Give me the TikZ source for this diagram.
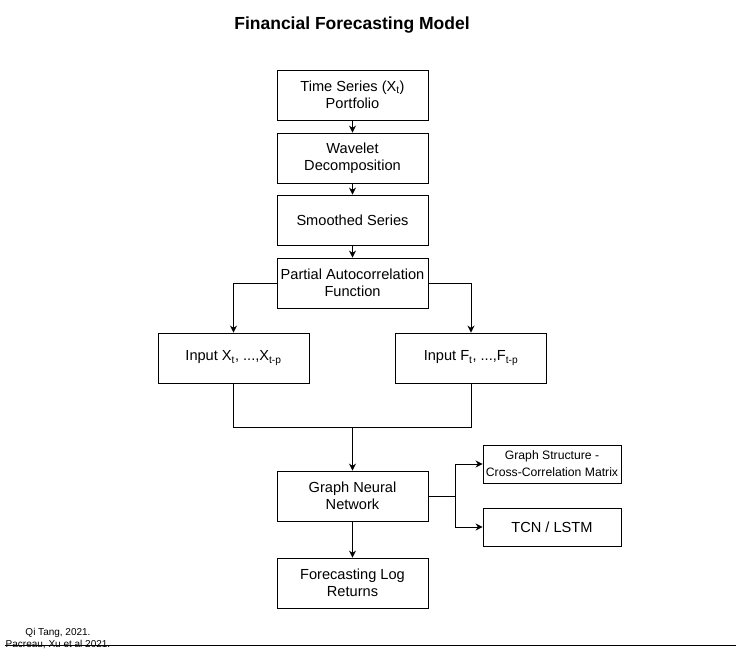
\documentclass[tikz,border=0pt]{standalone}
\usepackage{fontspec}
\setmainfont{Liberation Sans}
\usetikzlibrary{arrows.meta}
\begin{document}
\begin{tikzpicture}[x=1pt,y=-1pt,
  box/.style={draw,line width=0.9pt,minimum width=151pt,minimum height=50pt,align=center,inner sep=1pt,font=\fontsize{14.6}{17}\selectfont},
  sbox/.style={draw,line width=0.9pt,minimum width=138pt,minimum height=38pt,align=center,inner sep=1pt},
  conn/.style={line width=0.9pt},
  arr/.style={conn,-{Stealth[length=7pt,width=7pt]}}]
\useasboundingbox (0,0) rectangle (736,654);
\node[font=\bfseries\fontsize{17.5}{20}\selectfont] (title) at (352,25) {Financial Forecasting Model};
\node[box] (ts) at (352.5,95) {Time Series (X\textsubscript{t})\\Portfolio};
\node[box] (wd) at (352.5,158) {Wavelet\\Decomposition};
\node[box] (ss) at (352.5,220) {Smoothed Series};
\node[box] (pacf) at (352.5,283) {Partial Autocorrelation\\Function};
\node[box] (ix) at (233.5,358) {Input X\textsubscript{t}, ...,X\textsubscript{t-p}};
\node[box] (if) at (471,358) {Input F\textsubscript{t}, ...,F\textsubscript{t-p}};
\node[box] (gnn) at (352.5,496) {Graph Neural\\Network};
\node[box] (fl) at (352.5,583) {Forecasting Log\\Returns};
\node[sbox,font=\fontsize{12.2}{17}\selectfont] (gs) at (552,464) {Graph Structure -\\Cross-Correlation Matrix};
\node[sbox,font=\fontsize{14.6}{17}\selectfont] (tcn) at (552,527) {TCN / LSTM};
\draw[arr] (ts) -- (wd);
\draw[arr] (wd) -- (ss);
\draw[arr] (ss) -- (pacf);
\draw[arr] (pacf.west) -| (ix.north);
\draw[arr] (pacf.east) -| (if.north);
\coordinate (j) at (352.5,427);
\draw[conn] (ix.south) |- (j);
\draw[conn] (if.south) |- (j);
\draw[arr] (j) -- (gnn.north);
\draw[arr] (gnn) -- (fl);
\coordinate (b) at (455,496);
\draw[conn] (gnn.east) -- (b);
\draw[arr] (b) |- (gs.west);
\draw[arr] (b) |- (tcn.west);
\node[font=\fontsize{10}{12}\selectfont,align=center] (ref) at (58,639) {Qi Tang, 2021.\\Pacreau, Xu et al 2021.};
\coordinate (l1) at (5,645);
\coordinate (l2) at (736,645);
\draw[conn] (l1) -- (l2);
\end{tikzpicture}
\end{document}
